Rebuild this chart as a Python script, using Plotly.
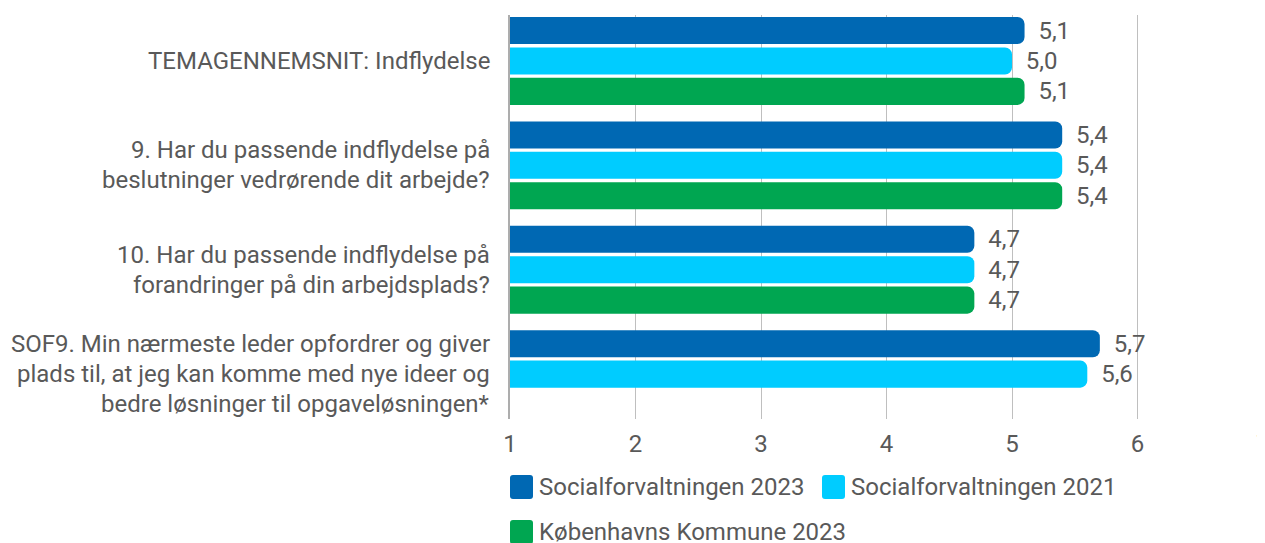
import plotly.graph_objects as go

# ---- data ----
category_lines = [
    ["TEMAGENNEMSNIT: Indflydelse"],
    ["9. Har du passende indflydelse på", "beslutninger vedrørende dit arbejde?"],
    ["10. Har du passende indflydelse på", "forandringer på din arbejdsplads?"],
    ["SOF9. Min nærmeste leder opfordrer og giver",
     "plads til, at jeg kan komme med nye ideer og",
     "bedre løsninger til opgaveløsningen*"],
]
categories = [" ".join(l) for l in category_lines]

series_names = ["Socialforvaltningen 2023", "Socialforvaltningen 2021", "Københavns Kommune 2023"]
sof_2023 = [5.1, 5.4, 4.7, 5.7]
sof_2021 = [5.0, 5.4, 4.7, 5.6]
kk_2023 = [5.1, 5.4, 4.7, None]
series_values = [sof_2023, sof_2021, kk_2023]
series_colors = ["#0068B3", "#00CCFF", "#00A651"]

x_ticks = [1, 2, 3, 4, 5, 6, 7]

TEXT = "#595959"
FONT = "Roboto"
FS = 24

fig = go.Figure()
for name, vals, col in zip(series_names, series_values, series_colors):
    fig.add_trace(go.Bar(
        y=categories, x=vals, name=name, orientation="h",
        marker=dict(color=col, cornerradius=7, line=dict(width=0)),
        texttemplate="\u00a0\u2009%{x:.1f}", textposition="outside",
        textfont=dict(family=FONT, size=FS, color=TEXT),
        constraintext="none", showlegend=False,
    ))

annotations = []
# category labels
for cat, lines in zip(categories, category_lines):
    n = len(lines)
    for i, line in enumerate(lines):
        annotations.append(dict(
            xref="paper", x=0, xanchor="right", xshift=-18,
            yref="y", y=cat, yanchor="middle", yshift=((n - 1) / 2 - i) * 30,
            text=line, showarrow=False, align="right",
            font=dict(family=FONT, size=FS, color=TEXT),
        ))

# manual legend
legend_pos = [(0, -68), (312, -68), (0, -113)]
shapes = []
for (dx, dy), name, col in zip(legend_pos, series_names, series_colors):
    x0, x1 = dx, dx + 23
    y0, y1 = dy - 12, dy + 12
    r = 3
    path = (f"M{x0 + r},{y0} L{x1 - r},{y0} Q{x1},{y0} {x1},{y0 + r} "
            f"L{x1},{y1 - r} Q{x1},{y1} {x1 - r},{y1} L{x0 + r},{y1} "
            f"Q{x0},{y1} {x0},{y1 - r} L{x0},{y0 + r} Q{x0},{y0} {x0 + r},{y0} Z")
    shapes.append(dict(
        type="path", xref="paper", yref="paper", xsizemode="pixel", ysizemode="pixel",
        xanchor=0, yanchor=0, path=path, fillcolor=col, line=dict(width=0),
    ))
    annotations.append(dict(
        xref="paper", x=0, xanchor="left", xshift=dx + 27,
        yref="paper", y=0, yanchor="middle", yshift=dy,
        text=name, showarrow=False,
        font=dict(family=FONT, size=FS, color=TEXT),
    ))

fig.update_layout(
    width=1257, height=535,
    margin=dict(l=502, r=2, t=7, b=124),
    paper_bgcolor="white", plot_bgcolor="white",
    barmode="group", bargap=0.126, bargroupgap=0.11,
    separators=",.",
    font=dict(family=FONT, size=FS, color=TEXT),
    showlegend=False,
    annotations=annotations, shapes=shapes,
    xaxis=dict(
        range=[1, 7], tickvals=x_ticks, ticktext=[str(t) for t in x_ticks],
        showgrid=True, gridcolor="#BFBFBF", gridwidth=1,
        zeroline=False, showline=False, ticks="", automargin=False,
        ticklabelstandoff=8, ticklabeloverflow="allow",
        tickfont=dict(family=FONT, size=FS, color=TEXT),
    ),
    yaxis=dict(
        type="category", categoryorder="array", categoryarray=categories,
        range=[3.43, -0.44], showticklabels=False, showgrid=False,
        showline=True, linecolor="#ADADAD", linewidth=2, ticks="",
        zeroline=False, automargin=False,
    ),
)

fig.write_html("out.html")
